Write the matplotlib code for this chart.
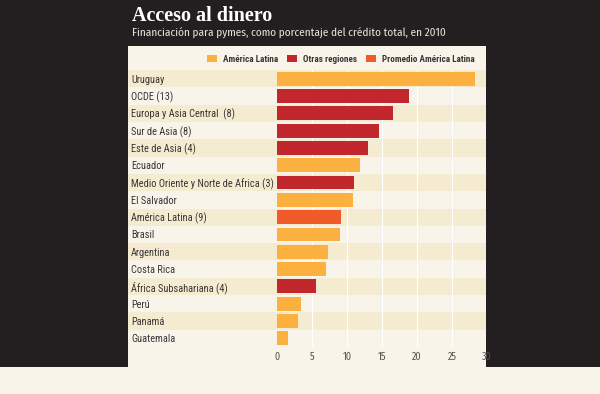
import matplotlib
matplotlib.use('Agg')
import matplotlib.pyplot as plt
from matplotlib.patches import Rectangle, Patch

# data
labels = ['Uruguay', 'OCDE (13)', 'Europa y Asia Central  (8)', 'Sur de Asia (8)',
          'Este de Asia (4)', 'Ecuador', 'Medio Oriente y Norte de Africa (3)',
          'El Salvador', 'América Latina (9)', 'Brasil', 'Argentina', 'Costa Rica',
          'África Subsahariana (4)', 'Perú', 'Panamá', 'Guatemala']
values = [28.3, 18.8, 16.5, 14.6, 13.0, 11.8, 10.95, 10.9, 9.15, 9.0, 7.35, 7.0,
          5.6, 3.45, 3.0, 1.6]
groups = ['lat', 'otr', 'otr', 'otr', 'otr', 'lat', 'otr', 'lat', 'prom', 'lat',
          'lat', 'lat', 'otr', 'lat', 'lat', 'lat']
legend_names = ['América Latina', 'Otras regiones', 'Promedio América Latina']
xticks = [0, 5, 10, 15, 20, 25, 30]

colors = {'lat': '#fbb040', 'otr': '#c1272d', 'prom': '#f15a29'}
dark_bg = '#231f20'
cream = '#f8f4ea'
stripe = '#f5ebd0'
txt = '#3a3535'

plt.rcParams['font.family'] = ['Fira Sans Condensed', 'DejaVu Sans']
label_font = ['Roboto Condensed', 'Fira Sans Condensed', 'DejaVu Sans']

W, H = 600, 394
fig = plt.figure(figsize=(6, 3.94), dpi=100, facecolor=cream)

def fx(px):
    return px / W

def fy(py):
    return 1 - py / H

# dark frame and the inset panel
fig.patches.append(Rectangle((0, fy(367)), 1, 1 - fy(367), transform=fig.transFigure,
                             facecolor=dark_bg, edgecolor='none', zorder=-2))
fig.patches.append(Rectangle((fx(128), fy(367)), fx(486) - fx(128), fy(46) - fy(367),
                             transform=fig.transFigure, facecolor=cream,
                             edgecolor='none', zorder=-1))

fig.text(fx(132), fy(21), 'Acceso al dinero', color='white', fontsize=14.5,
         fontweight='bold', family=['Liberation Serif', 'DejaVu Serif'], va='baseline')
fig.text(fx(132), fy(37), 'Financiación para pymes, como porcentaje del crédito total, en 2010',
         color='#e6e3df', fontsize=8.1, va='baseline')

# axes: x from 0 (277px) to 30 (487px), rows from 70 to 347px
ax = fig.add_axes([fx(277), fy(347), fx(487) - fx(277), fy(70) - fy(347)])
ax.set_zorder(2)
ax.set_facecolor('none')
n = len(labels)
ypos = list(range(n))
ax.set_ylim(n - 0.5, -0.5)
ax.set_xlim(0, 30)

x0 = (128 - 277) / 210
x1 = (486 - 277) / 210
for i in ypos:
    if i % 2 == 0:
        ax.axhspan(i - 0.5, i + 0.5, xmin=x0, xmax=x1, facecolor=stripe,
                   edgecolor='none', clip_on=False, zorder=0)

for t in xticks[1:-1]:
    ax.axvline(t, color='white', lw=0.8, zorder=1)

ax.barh(ypos, values, height=0.8, color=[colors[g] for g in groups], zorder=2)

ax.set_yticks(ypos)
ax.set_yticklabels(labels, fontsize=7.6, color=txt, ha='left', family=label_font)
ax.tick_params(axis='y', length=0, pad=(277 - 131) * 0.72)
ax.set_xticks(xticks)
ax.set_xticklabels([str(t) for t in xticks], fontsize=7.2, color='#555050')
ax.tick_params(axis='x', length=0, pad=3)
for s in ax.spines.values():
    s.set_visible(False)

# shrink row labels if the longest one would run into the bars
fig.canvas.draw()
r = fig.canvas.get_renderer()
widest = max(t.get_window_extent(r).width for t in ax.get_yticklabels())
if widest > 141:
    for t in ax.get_yticklabels():
        t.set_fontsize(7.6 * 141 / widest)

handles = [Patch(facecolor=colors[k], edgecolor='none') for k in ['lat', 'otr', 'prom']]
leg = fig.legend(handles, legend_names, ncol=3, loc='center right',
                 bbox_to_anchor=(fx(479), fy(59)), frameon=False,
                 prop={'family': ['Roboto Condensed', 'DejaVu Sans'], 'size': 6.6,
                       'weight': 'bold'},
                 handlelength=1.1, handleheight=0.87,
                 handletextpad=0.6, columnspacing=1.0, borderpad=0)
for t in leg.get_texts():
    t.set_color(txt)

fig.savefig('out.png', dpi=100, facecolor=cream)
